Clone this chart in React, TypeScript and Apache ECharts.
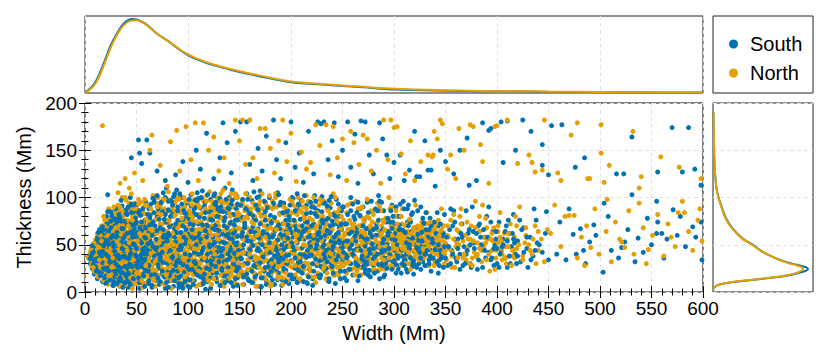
import React, { useEffect, useRef } from "react";
import * as echarts from "echarts";

const SOUTH_COLOR = "#0072B2";
const NORTH_COLOR = "#E69F00";

const seriesNames = ["South", "North"];
const xTickStep = 50;
const yTickStep = 50;

// Scatter: [width (Mm), thickness (Mm)]
const southPoints: number[][] = [
  [4,38],[5,30],[6,44],[7,25],[8,36],[9,50],[9,19],[10,31],[11,42],[12,58],[12,14],[13,26],[14,48],[15,35],[15,64],[16,20],[17,11],[17,54],[18,40],[19,28],[20,68],[20,9],[21,46],[22,33],[22,18],[23,58],[24,72],[24,25],[25,41],[26,12],[26,52],[27,31],[28,63],[28,7],[29,22],[30,47],[30,78],[31,36],[32,15],[32,56],[33,27],[34,69],[34,6],[35,43],[36,84],[36,20],[37,51],[38,33],[38,10],[39,61],[40,74],[40,26],[41,45],[42,5],[42,38],[43,88],[43,57],[44,17],[45,30],[45,66],[46,49],[47,8],[47,80],[48,23],[48,40],[49,59],[50,13],[50,92],[51,34],[52,71],[52,47],[53,4],[53,26],[54,62],[55,18],[55,83],[56,38],[57,53],[57,9],[58,30],[58,76],[59,44],[60,21],[60,64],[14,30],[18,60],[26,37],[33,48],[39,20],[44,55],[51,20],[56,70],[23,44],[29,55],[35,30],[41,14],[46,37],[54,45],[31,66],[37,40],[49,28],[27,19],[19,47],[48,85],[59,95],[33,90],[44,100],[21,80],
  [61,10],[62,37],[62,88],[63,55],[64,24],[65,71],[65,5],[66,46],[67,98],[67,31],[68,62],[69,15],[70,80],[70,40],[71,53],[72,8],[72,27],[73,92],[74,66],[74,44],[75,19],[76,105],[76,57],[77,33],[78,4],[78,75],[79,48],[80,22],[80,86],[81,61],[82,12],[82,38],[83,97],[84,70],[84,29],[85,52],[86,6],[86,81],[87,43],[88,17],[88,64],[89,108],[90,35],[90,90],[91,55],[92,25],[92,73],[93,9],[94,47],[94,100],[95,60],[96,31],[96,84],[97,14],[98,68],[98,41],[99,94],[100,21],[100,56],[101,77],[102,5],[102,36],[103,103],[104,49],[104,63],[105,27],[106,88],[106,12],[107,58],[108,40],[108,74],[109,96],[110,18],[110,51],[111,31],[112,82],[112,66],[113,8],[114,44],[114,107],[115,24],[116,59],[116,91],[117,36],[118,71],[118,14],[119,50],[120,85],[120,30],[121,62],[122,4],[122,98],[123,42],[124,20],[124,76],[125,55],[126,34],[126,104],[127,67],[128,11],[128,47],[129,89],[130,26],[130,60],[131,79],[132,38],[132,7],[133,95],[134,53],[134,17],[135,70],[136,43],[136,110],[137,29],[138,84],[138,61],[139,12],[140,48],[140,100],[141,34],[142,74],[142,22],[143,57],[144,90],[144,6],[145,40],[146,66],[146,27],[147,102],[148,52],[148,15],[149,80],[150,36],[63,78],[79,110],[91,5],[105,84],[117,3],[127,92],[143,108],
  [151,60],[152,20],[152,92],[153,45],[154,8],[155,73],[155,30],[156,55],[157,104],[158,14],[158,40],[159,85],[160,64],[161,24],[162,50],[162,97],[163,10],[164,34],[164,77],[165,58],[166,18],[167,88],[167,44],[168,67],[169,28],[170,107],[170,52],[171,6],[172,38],[172,81],[173,62],[174,22],[175,95],[175,47],[176,12],[177,70],[178,32],[178,56],[179,100],[180,17],[181,42],[181,75],[182,61],[183,26],[184,90],[184,8],[185,50],[186,36],[186,68],[187,105],[188,20],[189,58],[189,83],[190,44],[191,13],[192,72],[192,30],[193,94],[194,54],[195,23],[195,64],[196,40],[197,86],[198,9],[198,49],[199,76],[200,33],[201,100],[202,58],[202,16],[203,42],[204,70],[205,27],[206,88],[206,52],[207,11],[208,64],[209,36],[210,97],[210,46],[211,20],[212,78],[213,56],[214,30],[215,92],[215,10],[216,68],[217,42],[218,24],[219,84],[220,53],[221,14],[222,72],[222,38],[223,102],[224,60],[225,28],[226,86],[227,47],[228,18],[229,65],[230,34],[231,94],[232,55],[233,22],[234,76],[235,42],[236,12],[237,62],[238,89],[239,30],[240,50],[241,71],[242,18],[243,40],[244,98],[245,58],[246,26],[247,80],[248,46],[249,66],[250,33],
  [251,90],[252,15],[253,54],[254,72],[255,38],[256,24],[257,62],[258,100],[259,44],[260,18],[261,80],[262,56],[263,32],[264,68],[265,12],[266,48],[267,88],[268,26],[269,60],[270,40],[271,76],[272,20],[273,52],[274,95],[275,34],[276,66],[277,16],[278,46],[279,84],[280,28],[281,58],[282,38],[283,72],[284,22],[285,102],[286,50],[287,64],[288,30],[289,42],[290,86],[291,18],[292,56],[293,74],[294,36],[295,26],[296,62],[297,46],[298,92],[299,32],[300,70],[301,52],[302,20],[303,40],[304,80],[305,58],[306,28],[307,66],[308,44],[309,96],[310,34],[311,54],[312,24],[313,74],[314,48],[315,38],[316,62],[317,30],[318,84],[319,52],[320,42],[321,68],[322,26],[323,58],[324,46],[325,36],[326,90],[327,56],[328,32],[329,72],[330,48],[331,40],[332,60],[333,28],[334,52],[335,78],[336,44],[337,36],[338,64],[339,50],[340,30],[341,58],[342,42],[343,70],[344,34],[345,54],[346,46],[347,38],[348,62],[349,82],[350,50],
  [352,28],[354,66],[356,44],[358,86],[360,36],[362,56],[364,24],[366,72],[368,48],[370,40],[372,62],[374,30],[376,90],[378,52],[380,38],[382,70],[384,46],[386,26],[388,58],[390,80],[392,42],[394,34],[396,64],[398,50],[400,30],[402,74],[404,44],[406,56],[408,36],[410,26],[412,62],[414,48],[416,82],[418,40],[420,54],[423,32],[426,68],[429,46],[432,58],[435,38],[438,76],[441,50],[444,42],[447,62],[450,34],
  [448,85],[458,40],[461,74],[467,34],[474,61],[477,40],[481,67],[484,44],[490,53],[494,71],[496,60],[503,21],[504,94],[511,44],[521,47],[524,53],[534,32],[537,57],[546,78],[555,96],[555,62],[556,74],[560,62],[565,56],[571,87],[590,69],[598,74],[599,34],[470,88],[486,30],[508,80],[527,66],[542,42],[550,50],[562,36],[575,60],[583,48],[593,58],[578,80],[518,36],
  [22,103],[45,142],[52,161],[60,161],[53,147],[63,147],[55,136],[70,128],[78,118],[88,124],[95,138],[100,116],[108,150],[112,130],[118,168],[125,120],[131,142],[134,179],[138,158],[142,126],[146,170],[151,180],[157,180],[160,135],[163,118],[168,152],[172,128],[176,165],[183,182],[186,140],[190,120],[195,158],[200,180],[204,132],[208,147],[212,116],[217,170],[222,125],[226,180],[229,178],[232,180],[236,140],[240,160],[242,179],[246,122],[250,150],[255,180],[258,132],[262,167],[265,115],[268,181],[272,180],[276,145],[280,125],[286,179],[289,162],[293,145],[296,120],[300,137],[306,145],[310,118],[315,129],[320,170],[322,122],[325,122],[330,160],[333,129],[336,129],[340,112],[345,150],[350,138],[358,125],[364,150],[371,163],[373,113],[380,118],[386,179],[392,171],[394,173],[404,180],[406,137],[410,181],[418,150],[425,182],[433,170],[444,134],[444,156],[450,124],[453,176],[463,177],[476,132],[485,142],[516,125],[523,125],[531,164],[531,103],[556,127],[570,174],[580,127],[586,174],[592,130],[598,113]
];

// Extra South samples in the dense core of the cloud
const southCorePoints: number[][] = [
  [7,41],[11,24],[5,35],[16,57],[13,38],[24,13],[19,66],[31,9],[27,45],[35,75],[22,29],[38,58],[44,8],[41,33],[29,70],[52,15],[47,62],[57,41],[33,19],[49,78],[55,27],[18,49],[36,37],[26,81],[42,90],[58,6],[14,21],[21,61],[39,44],[53,54],[45,21],[30,30],[9,46],[11,53],[24,36],[34,60],[50,37],[56,88],[28,11],[43,70],[37,5],[20,40],[17,31],[59,68],[48,50],[25,68],[40,17],[32,39],[54,81],[46,27],[12,44],[23,22],[36,91],[51,63],[8,29],[19,15],[30,58],[44,45],[57,19],[38,75],[27,52],[15,52],[41,62],[55,52],[33,82],[47,14],[22,54],[10,27],[29,38],[52,33],[42,24],[35,12],[49,93],[24,47],[58,58],[37,67],[16,38],[45,84],[31,49],[26,24],[53,10],[40,52],[20,17],[48,67],[34,23],[56,30],[28,77],[13,57],[43,36],[39,10],[50,74],[23,64],[18,25],[36,46],[59,34],[46,58],[32,27],[25,32],[54,39],[41,82],[11,35],[30,88],[47,44],[21,72],[38,30],[55,65],[27,60],[44,29],[35,52],[52,84],[17,43],[33,35],[58,47],[42,11],[29,16],[49,40],[24,57],[37,20],[14,66],[51,26],[45,73],[31,74],[6,37],[26,46],[40,87],[57,73],[22,38],[36,27],[48,33],[19,55],[53,68],[43,50],[33,12],[28,34],[46,92],[39,37],[56,45],[25,85],[12,33],[50,58],[34,79],[21,26],[41,71],[30,22],[55,35],[37,60],[44,63],[27,7],[58,24],[16,63],[49,20],[32,61],[47,71],[23,50],
  [63,43],[71,88],[68,19],[77,60],[84,35],[92,104],[66,74],[99,27],[105,46],[87,12],[112,89],[74,50],[95,70],[81,5],[118,58],[129,36],[107,21],[64,93],[136,79],[142,47],[89,63],[122,15],[76,31],[101,98],[134,61],[115,9],[69,56],[97,40],[147,88],[126,52],[83,80],[110,72],[139,26],[62,28],[93,17],[120,42],[78,100],[131,7],[104,66],[86,49],[145,64],[73,11],[117,95],[98,55],[133,38],[67,84],[108,30],[125,102],[90,76],[140,19],[80,43],[113,53],[149,44],[70,65],[102,13],[128,80],[94,36],[143,97],[61,51],[121,24],[85,92],[111,62],[137,51],[75,22],[96,86],[124,67],[65,7],[106,42],[132,90],[88,28],[146,35],[72,77],[119,11],[100,61],[141,73],[79,57],[114,34],[127,15],[91,45],[148,59],[67,38],[103,91],[135,32],[82,69],[116,78],[62,62],[95,4],[130,47],[109,105],[77,16],[144,82],[87,58],[123,29],[70,47],[99,80],[138,68],[84,21],[112,16],[126,93],[64,18],[93,63],[147,22],[75,85],[106,57],[131,54],[89,38],[119,70],[142,10],[73,68],[101,33],[134,85],[81,96],[115,47],[139,40],[66,33],[96,21],[124,58],[86,101],[108,82],[145,52],[72,41],[127,71],[91,9],[118,33],[61,82],[100,48],[136,17],[79,74],[113,100],[144,30],[88,53],[122,85],[68,12],[104,24],[130,65],[83,44],[148,76],[76,66],[110,40],[137,98],[94,93],[120,63],[65,60],[97,11],[128,42],[85,85],[143,56],[71,25],[116,19],[102,72],[133,23],[80,30],[109,59],[140,88],[63,71],[92,31],[125,38],[74,95],[105,8],[135,75],[87,67],[121,50],[146,14],[69,45],[98,66],[131,99],[82,17],[114,65],[141,36],[76,53],[107,89],[127,27],[93,49],[148,93],[62,9],[117,84],[99,14],[134,46],[78,82],[103,55],[139,61],[66,99],[90,22],[123,76],[145,41],[73,34],[111,25],[129,88],[86,38],[119,103],[60,40],[95,77],[137,12],[81,62],[108,50],[142,64],
  [156,41],[168,87],[182,13],[194,60],[207,31],[219,95],[231,48],[243,9],[163,69],[175,26],[188,103],[201,52],[214,74],[226,17],[238,63],[249,37],[153,79],[166,33],[179,58],[191,7],[204,86],[216,44],[229,27],[241,82],[158,98],[171,15],[185,47],[197,71],[210,21],[222,57],[235,91],[247,52],[161,54],[173,40],[186,24],[199,92],[212,64],[224,35],[237,11],[150,24],[164,106],[177,61],[190,36],[203,14],[215,83],[228,69],[240,44],[159,12],[170,72],[183,94],[196,30],[208,56],[221,7],[233,60],[246,93],[154,50],[167,26],[180,81],[193,45],[205,66],[218,38],[230,101],[242,29],[157,88],[169,57],[181,34],[195,76],[206,10],[220,70],[232,40],[245,72],[152,35],[165,63],[178,19],[189,67],[202,99],[213,28],[225,50],[236,78],[248,14],[160,45],[174,96],[187,55],[198,18],[211,47],[223,89],[234,25],[244,61],[155,68],[176,8],[192,84],[209,40],[227,63],[239,54],[162,22],[184,38],[200,63],[217,16],[230,85],[250,47],[151,92],[172,50],[195,38],[213,102],[226,55],[241,20],[158,30],[181,73],[204,25],[219,60],[236,45],[163,81],[187,13],[209,77],[228,33],[247,68],[154,16],[170,43],[192,58],[215,37],[233,94],[167,100],[185,65],[203,44],[222,22],[240,75],[157,58],[179,42],[198,80],[216,66],[235,32],[249,86],[161,37],[183,28],[201,14],[220,90],[238,38],[153,63],[175,85],[196,48],[212,11],[231,73],[246,38],[166,76],[188,32],[207,93],[225,80],[243,52],[171,5],[190,95],[210,60],[229,18],[173,61],[194,22],[218,52],[237,97],
  [253,40],[262,77],[271,28],[279,58],[288,95],[296,40],[305,71],[313,21],[322,50],[331,84],[340,45],[348,26],[256,62],[266,17],[275,84],[284,48],[292,30],[301,62],[310,88],[319,33],[327,63],[336,22],[345,72],[258,30],[268,70],[277,41],[286,14],[294,78],[303,50],[312,40],[320,97],[329,55],[338,36],[347,60],[251,52],[260,93],[270,56],[280,35],[289,66],[298,24],[307,45],[316,74],[325,42],[334,66],[343,50],[252,22],[263,45],[273,67],[282,88],[291,36],[300,44],[309,65],[318,27],[328,78],[337,56],[346,40],[255,82],[265,28],[274,38],[283,60],[293,50],[302,90],[311,34],[321,58],[330,28],[339,74],[349,48],[257,46],[267,58],[276,23],[285,76],[295,34],[304,24],[314,56],[323,86],[332,44],[341,62],[350,36],[259,64],[269,35],[278,96],[287,46],[297,60],[306,80],[315,46],[324,30],[333,58],[342,32],[254,12],[264,84],[272,48],[281,20],[290,56],[299,74],[308,38],[317,64],[326,48],[335,38],[344,60],[261,38],[270,90],[280,66],[289,28],[298,56],[307,20],[317,82],[326,24],[336,70],[345,44],[263,54],[274,30],[284,40],[294,64],[304,36],[314,92],[324,54],[334,34],[344,28],
  [353,48],[357,70],[361,32],[366,58],[371,44],[375,26],[380,62],[385,50],[389,36],[394,74],[399,56],[403,40],[408,64],[413,30],[417,52],[355,88],[364,40],[373,66],[382,34],[391,58],[400,46],[411,76],[359,56],[369,30],[378,46],[387,66],[397,28],[406,50],[415,62],[420,38]
];

// Further South samples filling the cloud and its right-hand fringe
const southFillPoints: number[][] = [
  [14,42],[37,56],[62,12],[88,72],[113,41],[139,89],[164,28],[190,61],[216,9],[241,48],[267,81],[293,25],[318,57],[9,33],[33,78],[58,35],[84,96],[109,18],[135,52],[160,83],[186,44],[211,70],[237,14],[262,59],[288,42],[313,88],[21,10],[46,64],[71,29],[97,51],[122,77],[148,7],[173,37],[199,67],[224,46],[250,90],[275,18],[301,55],[326,36],[17,69],[42,20],[67,95],[93,45],[118,25],[144,62],[169,101],[195,11],[220,39],[246,63],[271,33],[297,86],[322,47],[28,48],[53,86],[79,10],[104,58],[130,32],[155,70],[181,22],[206,104],[232,50],[257,24],[283,68],[308,30],[12,56],[39,27],[64,52],[90,86],[115,14],[141,44],[166,92],[192,35],[217,58],[243,80],[268,44],[294,60],[319,19],[24,32],[49,72],[75,42],[100,6],[126,66],[151,36],[177,89],[202,48],[228,15],[253,72],[279,51],[304,38],[329,73],[7,49],[31,63],[57,17],[82,60],[107,97],[133,25],[158,54],[184,79],[209,32],[235,65],[260,40],[286,96],[311,63],[19,24],[44,40],[70,102],[95,29],[121,48],[146,76],[172,15],[197,57],[223,83],[248,22],[274,56],[299,80],[324,44],[35,97],[60,45],[86,23],[111,79],[137,60],[162,10],[188,71],[213,39],[239,101],[264,63],[290,16],[315,50],[26,58],[51,29],[77,77],[102,39],[128,20],[153,98],[179,52],[204,36],[230,76],[255,54],[281,37],[306,93],[15,17],[40,83],[66,48],[91,15],[117,65],[142,93],[168,46],[193,25],[219,48],[244,34],[270,70],[295,46],[320,29],[29,43],[55,74],[80,54],[106,32],[131,86],[157,19],[182,58],[208,92],[233,36],[259,50],[284,86],[310,28],[8,42],[34,15],[59,57],[85,37],[110,99],[136,10],[161,64],[187,40],[212,27],[238,70],[263,30],[289,52],[314,70],[22,85],[47,51],[73,37],[98,83],[124,50],[149,26],[175,76],[200,18],[226,61],[251,42],[277,62],[302,29],[327,54],[11,22],[36,67],[61,22],[87,104],[112,56],[138,34],[163,49],[189,92],[214,66],[240,27],[265,95],[291,44],[316,36],[43,29],[68,70],[94,8],[119,40],[145,71],[170,31],[196,85],[221,30],[247,54],[272,24],[298,67],[323,61],[20,52],[45,93],[71,15],[96,58],[122,33],[147,50],[173,64],[198,39],[224,96],[249,72],[276,45],[300,33],[13,63],[38,38],[63,81],[89,32],[114,71],[140,57],[165,16],[191,50],[216,74],[242,58],[269,38],[296,74],[30,19],[56,41],[81,87],[105,71],[132,43],[156,88],[183,60],[207,23],[234,44],[258,86],[285,29],[312,52],[25,75],[50,46],[76,58],[101,24],[127,95],[152,59],[178,27],[203,76],[229,58],[254,36],[280,46],[305,66],[330,40],
  [331,66],[334,30],[338,52],[342,84],[346,36],[351,58],[355,30],[359,74],[362,46],[367,28],[370,86],[374,50],[377,64],[381,24],[384,58],[388,44],[392,90],[395,36],[399,64],[402,26],[405,48],[409,70],[412,38],[416,56],[419,30],[422,76],[426,42],[429,58],[433,34],[436,88],[439,52],[357,40],[365,62],[383,72],[397,46],[410,54],[424,66],[430,26],[437,44],[343,20]
];

const northPoints: number[][] = [
  [3,36],[5,42],[6,28],[7,48],[8,33],[9,22],[10,55],[11,38],[12,27],[13,45],[13,16],[14,62],[15,40],[16,30],[17,52],[18,12],[18,70],[19,36],[20,24],[21,58],[22,44],[22,8],[23,32],[24,66],[25,19],[25,50],[26,40],[27,74],[27,10],[28,28],[29,57],[30,36],[30,16],[31,82],[32,47],[33,24],[33,64],[34,6],[35,54],[35,38],[36,72],[37,14],[37,29],[38,86],[38,48],[39,60],[40,8],[40,35],[41,76],[41,22],[42,52],[43,42],[43,94],[44,12],[44,66],[45,28],[46,56],[46,4],[47,40],[47,88],[48,19],[48,70],[49,48],[50,32],[50,80],[51,9],[51,60],[52,24],[52,98],[53,44],[54,74],[54,14],[55,36],[55,58],[56,5],[56,86],[57,28],[57,66],[58,46],[58,16],[59,92],[59,38],[60,56],[60,10],[16,44],[20,36],[24,54],[28,44],[34,32],[38,22],[42,30],[46,46],[50,52],[54,26],[26,62],[32,70],[40,64],[29,86],[36,100],[45,104],[12,50],[9,40],[15,24],[23,76],
  [61,70],[61,30],[62,48],[63,14],[64,88],[64,40],[65,60],[66,22],[66,102],[67,52],[68,6],[68,76],[69,36],[70,62],[70,94],[71,18],[72,46],[72,84],[73,28],[74,58],[74,10],[75,72],[76,40],[76,98],[77,24],[78,52],[78,86],[79,14],[80,64],[80,36],[81,106],[82,48],[82,76],[83,20],[84,58],[84,4],[85,90],[86,34],[86,68],[87,46],[88,12],[88,82],[89,56],[90,26],[90,100],[91,40],[92,70],[92,16],[93,54],[94,88],[94,32],[95,8],[96,62],[96,44],[97,78],[98,22],[98,96],[99,52],[100,36],[100,68],[101,12],[102,84],[102,46],[103,28],[104,60],[104,104],[105,18],[106,74],[106,40],[107,54],[108,6],[108,92],[109,32],[110,66],[110,46],[111,20],[112,80],[112,58],[113,36],[114,98],[114,10],[115,70],[116,48],[116,26],[117,88],[118,62],[118,40],[119,16],[120,76],[120,54],[121,106],[122,32],[122,68],[123,8],[124,46],[124,92],[125,22],[126,60],[126,80],[127,38],[128,14],[128,100],[129,54],[130,70],[130,30],[131,88],[132,46],[132,18],[133,64],[134,36],[134,108],[135,6],[136,78],[136,52],[137,26],[138,94],[138,42],[139,62],[140,14],[140,84],[141,34],[142,56],[142,104],[143,22],[144,72],[144,44],[145,10],[146,90],[146,58],[147,32],[148,68],[148,100],[149,18],[150,50],[150,82],
  [151,28],[152,66],[153,8],[153,96],[154,42],[155,56],[156,18],[157,80],[158,34],[159,62],[160,100],[160,12],[161,48],[162,74],[163,26],[164,56],[165,90],[165,38],[166,6],[167,64],[168,46],[169,84],[170,20],[171,58],[172,104],[173,32],[174,70],[175,14],[176,50],[176,92],[177,40],[178,76],[179,24],[180,60],[181,8],[182,88],[182,44],[183,66],[184,30],[185,100],[186,54],[187,16],[188,72],[189,40],[190,94],[191,60],[192,22],[193,48],[194,82],[195,34],[196,68],[197,12],[198,56],[199,98],[200,42],[201,26],[202,76],[203,62],[204,18],[205,90],[206,46],[207,34],[208,70],[209,14],[210,56],[211,84],[212,40],[213,24],[214,64],[215,102],[216,48],[217,30],[218,78],[219,58],[220,16],[221,92],[222,44],[223,68],[224,34],[225,54],[226,20],[227,80],[228,62],[229,40],[230,96],[231,28],[232,50],[233,72],[234,14],[235,58],[236,86],[237,36],[238,66],[239,46],[240,24],[241,104],[242,54],[243,32],[244,76],[245,60],[246,18],[247,42],[248,88],[249,50],[250,70],
  [251,36],[252,60],[253,22],[254,84],[255,48],[256,66],[257,30],[258,94],[259,54],[260,40],[261,72],[262,26],[263,58],[264,44],[265,88],[266,34],[267,64],[268,18],[269,50],[270,78],[271,40],[272,62],[273,28],[274,98],[275,54],[276,36],[277,70],[278,46],[279,22],[280,82],[281,60],[282,42],[283,32],[284,66],[285,52],[286,90],[287,24],[288,58],[289,40],[290,74],[291,48],[292,30],[293,64],[294,56],[295,100],[296,38],[297,70],[298,44],[299,26],[300,60],[301,80],[302,50],[303,36],[304,66],[305,42],[306,58],[307,28],[308,88],[309,52],[310,46],[311,70],[312,38],[313,62],[314,30],[315,54],[316,76],[317,44],[318,64],[319,36],[320,56],[321,92],[322,48],[323,40],[324,66],[325,32],[326,58],[327,74],[328,44],[329,52],[330,38],[331,62],[332,84],[333,46],[334,28],[335,56],[336,68],[337,42],[338,50],[339,34],[340,60],[341,72],[342,46],[343,40],[344,54],[345,64],[346,36],[347,48],[348,58],[349,30],[350,44],
  [351,34],[353,58],[355,76],[357,42],[359,26],[361,66],[363,50],[365,88],[367,36],[369,60],[371,44],[373,30],[375,70],[377,54],[379,96],[381,40],[383,64],[385,32],[387,48],[389,78],[391,56],[393,22],[395,44],[397,68],[399,36],[401,52],[403,84],[405,40],[407,62],[409,30],[411,48],[413,72],[415,38],[417,58],[419,46],[422,90],[425,34],[428,60],[431,50],[434,40],[437,70],[440,44],[443,56],[446,32],[449,66],
  [452,62],[456,92],[462,48],[466,80],[470,81],[475,81],[478,36],[482,58],[487,70],[491,47],[495,88],[499,40],[506,64],[511,32],[515,74],[519,56],[521,53],[524,47],[528,86],[533,40],[538,94],[542,68],[547,45],[551,60],[556,82],[562,38],[566,72],[569,58],[573,48],[576,84],[582,84],[586,64],[590,44],[595,76],[599,54],[507,98],[545,30],[580,96],[485,28],[597,88],
  [17,176],[32,105],[34,115],[39,120],[43,110],[48,126],[56,118],[63,150],[65,166],[73,134],[80,112],[83,159],[89,171],[92,128],[98,175],[103,140],[107,179],[110,118],[115,179],[120,150],[125,164],[130,128],[135,142],[140,115],[146,182],[150,160],[153,182],[156,135],[160,182],[163,142],[167,120],[170,173],[175,173],[180,152],[184,126],[188,160],[192,182],[196,138],[200,168],[205,117],[210,148],[215,130],[219,137],[224,177],[228,155],[234,177],[238,124],[241,175],[245,142],[250,162],[254,118],[258,170],[261,158],[266,135],[270,166],[274,162],[278,128],[283,150],[287,115],[290,182],[294,140],[297,182],[300,174],[303,175],[307,146],[311,125],[316,160],[320,118],[326,138],[333,145],[337,143],[338,145],[339,170],[342,162],[345,182],[347,178],[352,130],[355,145],[360,120],[363,173],[368,150],[374,177],[377,175],[384,156],[386,138],[392,115],[398,175],[400,176],[410,182],[420,136],[431,145],[434,137],[437,127],[444,129],[446,182],[459,126],[462,118],[472,166],[478,179],[488,120],[490,120],[501,147],[501,177],[504,116],[509,134],[532,170],[538,110],[540,122],[559,143],[577,132],[598,120]
];

// Extra North samples in the dense core of the cloud
const northCorePoints: number[][] = [
  [6,33],[10,45],[14,28],[8,51],[17,64],[12,19],[21,49],[25,26],[19,76],[28,60],[23,14],[31,40],[35,66],[27,32],[33,87],[38,17],[30,52],[42,46],[37,80],[45,35],[40,97],[48,58],[44,15],[51,71],[47,26],[54,49],[50,88],[57,34],[53,19],[59,77],[56,62],[13,36],[20,58],[26,71],[34,44],[41,58],[48,9],[55,82],[18,34],[24,42],[32,18],[39,69],[46,80],[52,37],[58,52],[11,31],[16,48],[22,66],[29,25],[36,55],[43,24],[49,63],[56,20],[9,37],[15,58],[21,20],[28,84],[34,11],[39,50],[45,90],[52,56],[57,9],[7,44],[18,44],[25,60],[31,28],[37,39],[44,75],[50,24],[55,67],[60,31],[12,62],[19,39],[26,18],[33,58],[40,27],[47,52],[54,95],[59,45],[14,47],[23,55],[30,73],[38,33],[43,60],[51,45],[58,83],[10,23],[17,26],[24,30],[32,63],[39,86],[46,31],[53,73],[20,69],[27,48],[35,24],[42,72],[49,35],[56,54],[29,64],[36,82],[44,40],[15,33],[22,34],[31,56],[38,64],[47,18],[54,32],[60,68],[13,52],[21,42],[28,16],[35,45],[42,86],[50,14],[57,57],[8,41],[16,70],[25,78],[33,42],[41,40],[48,94],[55,43],[26,53],[34,75],[40,44],[47,65],[53,27],[59,62],[18,56],[24,23],[30,44],[37,71],[44,52],[51,82],[58,38],[11,49],[19,30],[27,66],[36,16],[43,92],[52,64],[30,8],[39,58],[46,68],[54,57],[23,88],[32,92],[45,44],[57,90],
  [62,58],[67,30],[73,90],[79,47],[85,16],[91,72],[97,34],[103,97],[109,55],[115,22],[121,80],[127,44],[133,11],[139,70],[145,36],[64,82],[70,12],[76,61],[82,28],[88,96],[94,50],[100,19],[106,66],[112,38],[118,102],[124,57],[130,24],[136,88],[142,50],[148,8],[61,37],[68,66],[74,25],[80,98],[86,52],[92,38],[98,74],[104,12],[110,92],[116,58],[122,36],[128,72],[134,20],[140,98],[146,64],[63,20],[69,101],[75,48],[81,72],[87,30],[93,84],[99,42],[105,62],[111,8],[117,50],[123,96],[129,62],[135,44],[141,24],[147,80],[65,50],[71,78],[77,8],[83,40],[89,68],[95,24],[101,86],[107,34],[113,74],[119,28],[125,88],[131,52],[137,66],[143,40],[149,60],[66,40],[72,56],[78,34],[84,84],[90,14],[96,100],[102,58],[108,26],[114,84],[120,46],[126,14],[132,104],[138,34],[144,90],[150,30],[61,92],[67,16],[73,72],[79,62],[85,42],[91,22],[97,90],[103,50],[109,40],[115,96],[121,60],[127,30],[133,78],[139,48],[145,16],[63,66],[69,44],[75,96],[81,26],[87,64],[93,10],[99,32],[105,80],[111,50],[117,14],[123,70],[129,46],[135,94],[141,58],[147,44],[64,30],[70,84],[76,20],[82,56],[88,44],[94,72],[100,96],[106,24],[112,66],[118,50],[124,26],[130,84],[136,40],[142,72],[148,36],[62,74],[68,48],[74,36],[80,18],[86,80],[92,60],[98,8],[104,76],[110,28],[116,68],[122,90],[128,56],[134,30],[140,52],[146,100],[65,26],[71,64],[77,88],[83,52],[89,20],[95,58],[101,40],[107,98],[113,18],[119,86],[125,44],[131,64],[137,20],[143,82],[149,48],[66,60],[72,32],[78,74],[84,12],[90,50],[96,26],[102,64],[108,44],[114,58],[120,20],[126,70],[132,34],[138,58],[144,24],[150,92],[64,44],[71,100],[79,38],[87,94],[95,44],[103,36],[111,82],[119,60],[127,86],[135,60],[143,28],[60,25],[74,64],[88,32],[102,22],[116,36],[130,96],[144,66],
  [152,40],[158,78],[164,20],[170,62],[176,34],[182,96],[188,48],[194,14],[200,70],[206,38],[212,90],[218,44],[224,10],[230,64],[236,50],[242,84],[248,26],[155,58],[161,88],[167,30],[173,50],[179,102],[185,22],[191,66],[197,40],[203,84],[209,26],[215,58],[221,76],[227,48],[233,30],[239,94],[245,40],[151,76],[157,22],[163,64],[169,36],[175,80],[181,52],[187,30],[193,90],[199,54],[205,16],[211,66],[217,96],[223,38],[229,54],[235,72],[241,18],[247,60],[153,92],[159,46],[165,14],[171,74],[177,56],[183,36],[189,82],[195,62],[201,32],[207,100],[213,50],[219,22],[225,84],[231,44],[237,26],[243,56],[249,80],[154,28],[160,66],[166,50],[172,88],[178,10],[184,76],[190,28],[196,50],[202,92],[208,60],[214,36],[220,68],[226,30],[232,96],[238,52],[244,20],[250,56],[156,104],[162,54],[168,6],[174,40],[180,68],[186,90],[192,40],[198,28],[204,74],[210,46],[216,18],[222,100],[228,74],[234,40],[240,66],[246,32],[151,48],[163,36],[175,62],[187,74],[199,82],[211,30],[223,56],[235,88],[247,44],[157,68],[169,92],[181,20],[193,30],[205,58],[217,70],[229,36],[241,48],[153,16],[165,80],[177,26],[189,56],[201,48],[213,80],[225,64],[237,78],[249,30],[159,32],[171,54],[183,62],[195,88],[207,22],[219,46],[231,24],[243,100],[155,86],[167,66],[179,46],[191,16],[203,64],[215,42],[227,92],[239,34],[161,44],[173,24],[185,104],[197,72],[209,12],[221,52],[233,62],[245,84],[158,60],[170,44],[182,32],[194,74],[206,82],[218,60],[230,46],[242,36],
  [252,48],[259,72],[266,26],[273,58],[280,40],[287,86],[294,52],[301,34],[308,72],[315,48],[322,64],[329,36],[336,58],[343,76],[350,52],[255,92],[262,38],[269,64],[276,30],[283,52],[290,66],[297,28],[304,56],[311,44],[318,60],[325,50],[332,72],[339,44],[346,66],[253,30],[260,56],[267,80],[274,44],[281,24],[288,36],[295,76],[302,64],[309,50],[316,36],[323,70],[330,54],[337,64],[344,38],[257,66],[264,22],[271,50],[278,86],[285,40],[292,58],[299,48],[306,40],[313,64],[320,44],[327,58],[334,48],[341,56],[348,70],[251,76],[258,40],[265,60],[272,36],[279,68],[286,28],[293,42],[300,68],[307,52],[314,40],[321,52],[328,66],[335,62],[342,50],[349,40],[256,54],[263,96],[270,42],[277,58],[284,74],[291,24],[298,90],[305,46],[312,58],[319,68],[326,40],[333,54],[340,66],[347,54],[254,20],[261,64],[268,32],[275,68],[282,46],[289,54],[296,60],[303,44],[310,62],[317,54],[324,60],[331,46],[338,70],[345,48],[257,44],[271,74],[285,60],[299,38],[313,72],[327,46],[341,40],[264,50],[278,48],[292,78],[306,62],[320,36],[334,64],[348,46],[266,88],[288,70],[310,54],[332,58],[303,58],[318,50],[326,66],[339,52],
  [352,60],[356,38],[361,52],[365,72],[370,34],[374,56],[378,42],[383,80],[387,58],[392,40],[396,54],[401,64],[405,34],[410,56],[415,44],[419,70],[354,46],[363,64],[372,48],[381,52],[390,68],[399,44],[408,48],[417,36],[358,82],[367,54],[376,36],[385,44],[395,62],[404,54]
];

// Further North samples filling the cloud and its right-hand fringe
const northFillPoints: number[][] = [
  [11,40],[35,61],[60,18],[86,50],[111,90],[137,30],[162,58],[188,14],[213,77],[239,40],[264,58],[290,34],[315,77],[6,46],[31,18],[56,73],[82,33],[107,62],[133,96],[158,24],[184,52],[209,86],[235,20],[260,68],[286,48],[311,30],[18,80],[43,52],[69,23],[94,78],[120,12],[145,48],[171,80],[196,33],[222,60],[247,88],[273,44],[298,60],[324,34],[27,36],[52,93],[78,44],[103,30],[129,74],[154,42],[180,6],[205,53],[231,80],[256,32],[282,56],[307,80],[15,60],[40,31],[65,65],[91,98],[116,36],[142,18],[167,60],[193,72],[218,26],[244,46],[269,90],[295,36],[320,58],[23,17],[48,44],[74,82],[99,48],[125,14],[150,67],[176,44],[201,96],[227,40],[252,62],[278,30],[303,72],[328,46],[9,52],[34,90],[59,28],[85,62],[110,22],[136,58],[161,84],[187,26],[212,50],[238,82],[263,36],[289,76],[314,42],[30,68],[55,12],[80,76],[106,46],[131,26],[157,90],[182,48],[208,36],[233,68],[259,24],[284,94],[309,58],[14,34],[39,100],[64,41],[90,68],[115,54],[141,80],[166,34],[192,8],[217,64],[243,28],[268,54],[294,26],[319,66],[25,46],[50,20],[75,56],[101,82],[126,40],[152,22],[177,66],[203,40],[228,98],[254,50],[279,74],[305,40],[330,56],[19,70],[44,22],[70,90],[95,36],[121,64],[146,104],[172,40],[197,62],[223,16],[248,66],[274,80],[299,52],[8,26],[33,50],[58,98],[84,26],[109,74],[135,12],[160,40],[186,66],[211,96],[237,42],[262,18],[288,62],[313,54],[28,90],[53,62],[79,18],[104,92],[130,56],[155,78],[181,30],[206,60],[232,26],[257,76],[283,34],[308,46],[16,54],[41,44],[67,12],[92,56],[118,96],[143,64],[169,26],[194,56],[220,50],[245,26],[271,62],[296,88],[321,40],[36,30],[61,60],[87,86],[112,30],[138,48],[163,94],[189,60],[214,30],[240,58],[265,44],[291,66],[316,24],[21,30],[46,76],[72,52],[97,16],[123,60],[148,84],[174,16],[199,48],[225,70],[250,38],[277,52],[302,86],[12,45],[37,84],[62,34],[88,38],[113,66],[139,22],[164,72],[190,42],[215,88],[241,32],[266,70],[292,48],[317,62],[26,26],[51,54],[77,98],[102,54],[128,34],[153,56],[179,90],[204,28],[230,56],[255,66],[281,30],[306,54],[22,60],[47,34],[73,44],[98,60],[124,82],[149,40],[175,58],[200,84],[226,42],[251,28],[276,78],[301,46],[327,70],[42,70],[68,32],[93,24],[119,44],[144,34],[170,96],[195,20],[221,44],[246,74],[272,40],[297,44],[323,50],
  [332,52],[335,74],[339,28],[344,60],[348,42],[352,70],[356,26],[360,48],[364,80],[368,40],[372,56],[376,28],[379,68],[383,46],[386,92],[390,34],[394,56],[398,24],[401,70],[404,46],[408,36],[411,62],[414,28],[418,80],[421,50],[425,38],[428,68],[432,44],[435,56],[438,30],[362,36],[371,74],[389,52],[403,58],[416,44],[427,52],[440,64],[346,88],[358,56],[380,38]
];

// Marginal density of width (x10^-3 per Mm)
const widthGrid = [0,5,10,15,20,25,30,35,40,45,50,55,60,70,80,90,100,110,120,130,145,170,200,230,270,300,350,400,410,450,500,550,600];
const southWidthDensity = [0.09,0.54,1.26,2.52,4.05,5.58,6.75,7.74,8.37,8.64,8.6,8.33,7.97,6.93,6.12,5.22,4.41,3.87,3.42,3.1,2.61,1.94,1.26,0.99,0.67,0.41,0.27,0.2,0.22,0.14,0.11,0.07,0.05];
const northWidthDensity = [0.07,0.41,1.08,2.25,3.78,5.31,6.57,7.56,8.19,8.46,8.5,8.28,7.92,6.93,6.12,5.27,4.5,3.96,3.51,3.15,2.7,2.03,1.35,1.04,0.72,0.5,0.32,0.2,0.23,0.16,0.11,0.07,0.05];

// Marginal density of thickness (x10^-3 per Mm)
const thicknessGrid = [3,5,7,8.5,10,12.5,15,17.5,20,22,24,26,28,30,34,39,44,50,57,68,78,89,100,110,121,139,157,174,190];
const southThicknessDensity = [0,0.45,1.2,2.7,5.1,11.1,17.4,22.5,25.5,27.45,28.5,28.05,26.1,23.7,20.1,16.8,14.25,12.0,8.7,5.7,3.9,2.7,1.68,1.05,0.72,0.42,0.3,0.21,0.12];
const northThicknessDensity = [0,0.45,1.2,2.55,4.8,10.5,16.8,21.9,24.9,26.25,27.0,26.7,25.2,23.1,19.8,16.8,14.1,11.7,8.55,5.55,3.75,2.61,1.62,1.02,0.69,0.42,0.3,0.21,0.12];

const FONT = "'Liberation Sans', Arial, Helvetica, sans-serif";
const gridLine = { show: true, lineStyle: { color: "#e3e3e3", type: [4, 3] as any, width: 1 } };

function scatterLayer(name: string, color: string, data: number[][]) {
  return {
    name, type: "scatter", xAxisIndex: 0, yAxisIndex: 0, data,
    symbolSize: 5, itemStyle: { color, opacity: 1 }, z: 2,
  };
}

export default function App() {
  const ref = useRef<HTMLDivElement>(null);
  useEffect(() => {
    if (!ref.current) return;
    const chart = echarts.init(ref.current, undefined, { renderer: "svg" });
    const mainTicks = {
      axisLine: { show: false },
      axisTick: { show: true, inside: true, length: 6, lineStyle: { color: "#000", width: 1 } },
      minorTick: { show: true, splitNumber: 5, length: 3.5, lineStyle: { color: "#000", width: 1 } },
    };
    const hidden = {
      axisLine: { show: false },
      axisTick: { show: false },
      axisLabel: { show: false },
      splitLine: { show: false },
    };
    const option: any = {
      animation: false,
      textStyle: { fontFamily: FONT },
      grid: [
        { left: 85, top: 103, width: 618, height: 189, show: true, borderColor: "#000", borderWidth: 1, backgroundColor: "transparent" },
        { left: 85, top: 16, width: 618, height: 77, show: true, borderColor: "#222", borderWidth: 1, backgroundColor: "transparent" },
        { left: 713, top: 103, width: 100, height: 189, show: true, borderColor: "#222", borderWidth: 1, backgroundColor: "transparent" },
      ],
      xAxis: [
        {
          type: "value", gridIndex: 0, min: 0, max: 600, interval: xTickStep, position: "bottom",
          ...mainTicks,
          axisLabel: { fontSize: 19, color: "#000", margin: 7, fontFamily: FONT },
          splitLine: gridLine,
          name: "Width (Mm)", nameLocation: "middle", nameGap: 31,
          nameTextStyle: { fontSize: 20, color: "#000", fontFamily: FONT },
        },
        {
          type: "value", gridIndex: 0, min: 0, max: 600, interval: xTickStep, position: "top",
          ...mainTicks, axisLabel: { show: false }, splitLine: { show: false },
        },
        {
          type: "value", gridIndex: 1, min: 0, max: 600, interval: 100,
          axisLine: { show: false }, axisTick: { show: false }, axisLabel: { show: false }, splitLine: gridLine,
        },
        { type: "value", gridIndex: 2, min: 0, max: 30, ...hidden },
      ],
      yAxis: [
        {
          type: "value", gridIndex: 0, min: 0, max: 200, interval: yTickStep, position: "left",
          ...mainTicks,
          axisLabel: { fontSize: 19, color: "#000", margin: 8, fontFamily: FONT },
          splitLine: gridLine,
          name: "Thickness (Mm)", nameLocation: "middle", nameGap: 45, nameRotate: 90,
          nameTextStyle: { fontSize: 20, color: "#000", fontFamily: FONT },
        },
        {
          type: "value", gridIndex: 0, min: 0, max: 200, interval: yTickStep, position: "right",
          ...mainTicks, axisLabel: { show: false }, splitLine: { show: false },
        },
        { type: "value", gridIndex: 1, min: 0, max: 9, ...hidden },
        {
          type: "value", gridIndex: 2, min: 0, max: 200, interval: yTickStep,
          axisLine: { show: false }, axisTick: { show: false }, axisLabel: { show: false }, splitLine: gridLine,
        },
      ],
      legend: {
        orient: "vertical", left: 724, top: 29, itemWidth: 9, itemHeight: 9, itemGap: 9,
        icon: "circle", selectedMode: false, data: seriesNames,
        textStyle: { fontSize: 20, color: "#000", fontFamily: FONT, padding: [0, 0, 0, 7] },
      },
      graphic: [
        { type: "rect", z: -1, shape: { x: 713, y: 16, width: 100, height: 77 }, style: { fill: "none", stroke: "#222", lineWidth: 1 } },
      ],
      series: [
        // Scatter layers interleaved so that neither group hides the other entirely
        scatterLayer("South", SOUTH_COLOR, southPoints),
        scatterLayer("North", NORTH_COLOR, northPoints),
        scatterLayer("North", NORTH_COLOR, northCorePoints),
        scatterLayer("South", SOUTH_COLOR, southCorePoints),
        scatterLayer("North", NORTH_COLOR, northFillPoints),
        scatterLayer("South", SOUTH_COLOR, southFillPoints),
        {
          name: "South width density", type: "line", xAxisIndex: 2, yAxisIndex: 2, showSymbol: false, smooth: 0.35,
          data: widthGrid.map((w, i) => [w, southWidthDensity[i]]), lineStyle: { color: SOUTH_COLOR, width: 2 }, itemStyle: { color: SOUTH_COLOR },
        },
        {
          name: "North width density", type: "line", xAxisIndex: 2, yAxisIndex: 2, showSymbol: false, smooth: 0.35,
          data: widthGrid.map((w, i) => [w, northWidthDensity[i]]), lineStyle: { color: NORTH_COLOR, width: 2 }, itemStyle: { color: NORTH_COLOR },
        },
        {
          name: "South thickness density", type: "line", xAxisIndex: 3, yAxisIndex: 3, showSymbol: false, smooth: 0.35,
          data: thicknessGrid.map((t, i) => [southThicknessDensity[i], t]), lineStyle: { color: SOUTH_COLOR, width: 2 }, itemStyle: { color: SOUTH_COLOR },
        },
        {
          name: "North thickness density", type: "line", xAxisIndex: 3, yAxisIndex: 3, showSymbol: false, smooth: 0.35,
          data: thicknessGrid.map((t, i) => [northThicknessDensity[i], t]), lineStyle: { color: NORTH_COLOR, width: 2 }, itemStyle: { color: NORTH_COLOR },
        },
      ],
    };
    chart.setOption(option);
    return () => chart.dispose();
  }, []);
  return <div ref={ref} style={{ position: "fixed", left: 0, top: 0, width: 830, height: 363, background: "#fff" }} />;
}
